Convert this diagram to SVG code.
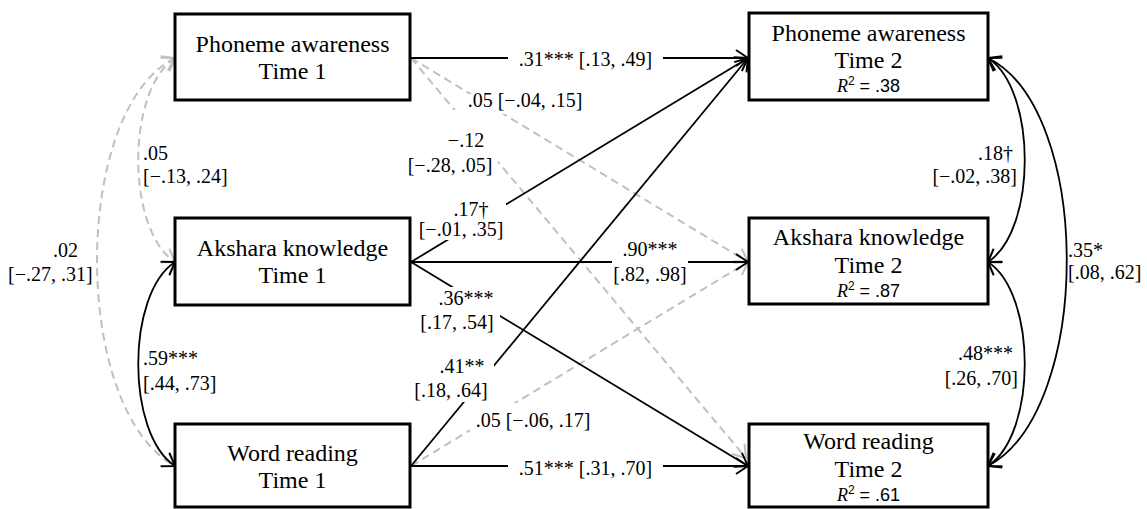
<svg xmlns="http://www.w3.org/2000/svg" width="1147" height="509" viewBox="0 0 1147 509">
<style>
.box{fill:#fff;stroke:#000;stroke-width:3}
.nt{font-family:"Liberation Serif","Times New Roman",serif;font-size:24px;fill:#000;text-anchor:middle}
.r2{font-family:"Liberation Sans",Arial,sans-serif;font-size:18px;fill:#000;text-anchor:middle}
.lb{font-family:"Liberation Serif","Times New Roman",serif;font-size:20px;fill:#000}
.mid{text-anchor:middle}
.s{fill:none;stroke:#000;stroke-width:1.8}
.d{fill:none;stroke:#c0c0c0;stroke-width:2;stroke-dasharray:8 5}
.bg{fill:#fff}
</style>
<defs>
<marker id="ab" viewBox="0 0 14 18" refX="13" refY="9" markerWidth="14" markerHeight="18" markerUnits="userSpaceOnUse" orient="auto-start-reverse">
<path d="M1,1 L13,9 L1,17" fill="none" stroke="#000" stroke-width="2"/>
</marker>
<marker id="ag" viewBox="0 0 14 18" refX="13" refY="9" markerWidth="14" markerHeight="18" markerUnits="userSpaceOnUse" orient="auto-start-reverse">
<path d="M1,1 L13,9 L1,17" fill="none" stroke="#c0c0c0" stroke-width="2"/>
</marker>
</defs>
<rect width="1147" height="509" fill="#fff"/>
<g id="connectors">
<path class="d" d="M175,58 C71,110 71,410 175,466" marker-start="url(#ag)"/>
<path class="d" d="M175,58 C126,90 126,230 175,262" marker-start="url(#ag)" marker-end="url(#ag)"/>
<path class="s" d="M175,262 C126,294 126,434 175,466" marker-start="url(#ab)" marker-end="url(#ab)"/>
<path class="s" d="M988,58 C1037,90 1037,230 988,262" marker-start="url(#ab)" marker-end="url(#ab)"/>
<path class="s" d="M988,262 C1037,294 1037,434 988,466" marker-start="url(#ab)" marker-end="url(#ab)"/>
<path class="s" d="M988,58 C1093,110 1093,410 988,466" marker-start="url(#ab)" marker-end="url(#ab)"/>
<line class="d" x1="411" y1="58" x2="748" y2="262" marker-end="url(#ag)"/>
<line class="d" x1="411" y1="58" x2="746" y2="458" marker-end="url(#ag)"/>
<line class="d" x1="411" y1="466" x2="748" y2="262" marker-end="url(#ag)"/>
<line class="s" x1="411" y1="58" x2="748" y2="58" marker-end="url(#ab)"/>
<line class="s" x1="411" y1="262" x2="748" y2="58" marker-end="url(#ab)"/>
<line class="s" x1="411" y1="262" x2="748" y2="262" marker-end="url(#ab)"/>
<line class="s" x1="411" y1="262" x2="748" y2="466" marker-end="url(#ab)"/>
<line class="s" x1="411" y1="466" x2="748" y2="58" marker-end="url(#ab)"/>
<line class="s" x1="411" y1="466" x2="748" y2="466" marker-end="url(#ab)"/>
<rect class="bg" x="508" y="46" width="155" height="26"/>
<rect class="bg" x="462" y="94" width="128" height="20"/>
<rect class="bg" x="406" y="110" width="92" height="68"/>
<rect class="bg" x="418" y="198" width="88" height="42"/>
<rect class="bg" x="612" y="240" width="76" height="46"/>
<rect class="bg" x="418" y="287" width="82" height="48"/>
<rect class="bg" x="414" y="356" width="80" height="46"/>
<rect class="bg" x="470" y="403" width="128" height="29"/>
<rect class="bg" x="508" y="456" width="155" height="24"/>
</g>
<g id="labels">
<text class="lb mid" x="585.5" y="66">.31*** [.13, .49]</text>
<text class="lb mid" x="525" y="107">.05 [−.04, .15]</text>
<text class="lb mid" x="466" y="147">−.12</text>
<text class="lb mid" x="450" y="172">[−.28, .05]</text>
<text class="lb mid" x="471" y="216">.17†</text>
<text class="lb mid" x="461" y="236">[−.01, .35]</text>
<text class="lb mid" x="650" y="256">.90***</text>
<text class="lb mid" x="650" y="281">[.82, .98]</text>
<text class="lb mid" x="466" y="305">.36***</text>
<text class="lb mid" x="457" y="329">[.17, .54]</text>
<text class="lb mid" x="462" y="373">.41**</text>
<text class="lb mid" x="451" y="397">[.18, .64]</text>
<text class="lb mid" x="533" y="427">.05 [−.06, .17]</text>
<text class="lb mid" x="585.5" y="475">.51***  [.31, .70]</text>
<text class="lb" x="143" y="160">.05</text>
<text class="lb" x="143" y="183">[−.13, .24]</text>
<text class="lb" x="53" y="257">.02</text>
<text class="lb" x="8" y="281">[−.27, .31]</text>
<text class="lb" x="143" y="365">.59***</text>
<text class="lb" x="143" y="390">[.44, .73]</text>
<text class="lb" x="1013" y="160" text-anchor="end">.18†</text>
<text class="lb" x="1017" y="183" text-anchor="end">[−.02, .38]</text>
<text class="lb" x="1013" y="360" text-anchor="end">.48***</text>
<text class="lb" x="1018" y="385" text-anchor="end">[.26, .70]</text>
<text class="lb" x="1068" y="257">.35*</text>
<text class="lb" x="1068" y="279">[.08, .62]</text>
</g>
<g id="pa1">
<rect class="box" x="175" y="14" width="235" height="86"/>
<text class="nt" x="292.5" y="52">Phoneme awareness</text>
<text class="nt" x="292.5" y="79">Time 1</text>
</g>
<g id="ak1">
<rect class="box" x="175" y="218" width="235" height="87"/>
<text class="nt" x="292.5" y="256">Akshara knowledge</text>
<text class="nt" x="292.5" y="283">Time 1</text>
</g>
<g id="wr1">
<rect class="box" x="175" y="424" width="235" height="83"/>
<text class="nt" x="292.5" y="461">Word reading</text>
<text class="nt" x="292.5" y="488">Time 1</text>
</g>
<g id="pa2">
<rect class="box" x="749" y="13" width="239" height="87"/>
<text class="nt" x="868.5" y="41">Phoneme awareness</text>
<text class="nt" x="868.5" y="68">Time 2</text>
<text class="r2" x="868.5" y="92"><tspan font-family="Liberation Serif" font-style="italic">R</tspan><tspan font-size="12" dy="-7">2</tspan><tspan dy="7"> = .38</tspan></text>
</g>
<g id="ak2">
<rect class="box" x="749" y="218" width="239" height="86"/>
<text class="nt" x="868.5" y="245">Akshara knowledge</text>
<text class="nt" x="868.5" y="273">Time 2</text>
<text class="r2" x="868.5" y="297"><tspan font-family="Liberation Serif" font-style="italic">R</tspan><tspan font-size="12" dy="-7">2</tspan><tspan dy="7"> = .87</tspan></text>
</g>
<g id="wr2">
<rect class="box" x="749" y="424" width="239" height="83"/>
<text class="nt" x="868.5" y="449">Word reading</text>
<text class="nt" x="868.5" y="477">Time 2</text>
<text class="r2" x="868.5" y="501"><tspan font-family="Liberation Serif" font-style="italic">R</tspan><tspan font-size="12" dy="-7">2</tspan><tspan dy="7"> = .61</tspan></text>
</g>
</svg>
